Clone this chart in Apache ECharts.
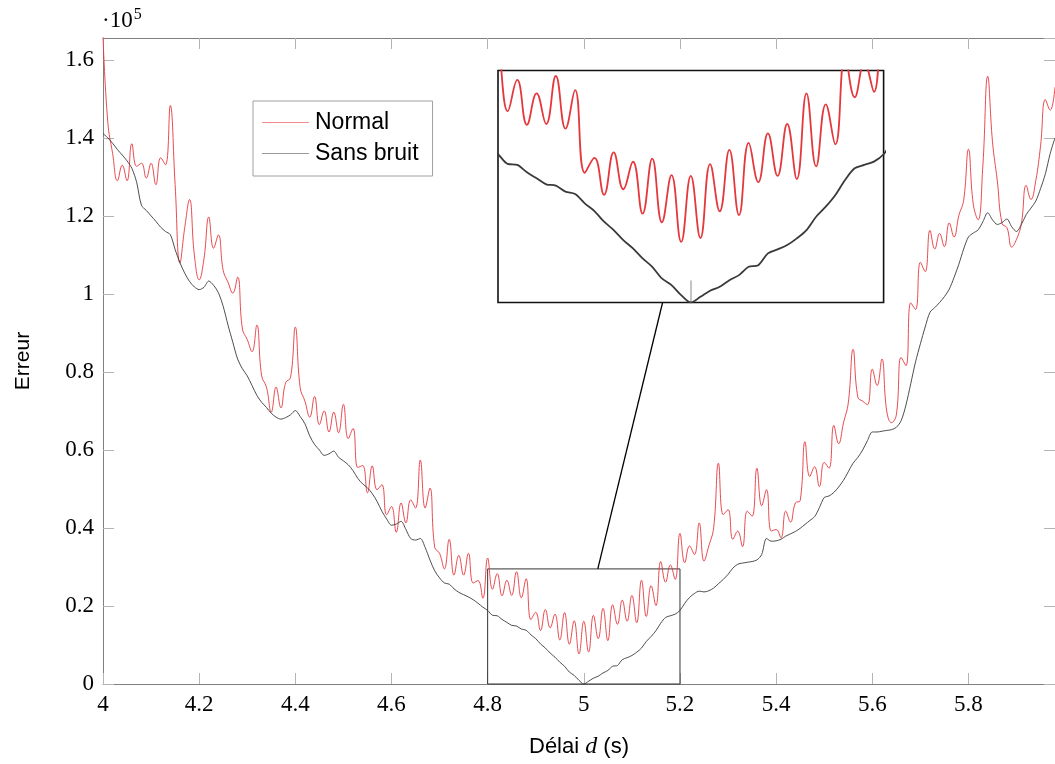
<!DOCTYPE html>
<html><head><meta charset="utf-8">
<script src="https://cdn.jsdelivr.net/npm/echarts@6/dist/echarts.min.js"></script>
<style>html,body{margin:0;padding:0;background:#fff}#c{width:1055px;height:764px}</style>
</head><body><div id="c"></div>
<script>
// Sampling grid of the delay d (s)
const D_START = 4.0, D_STEP = 0.01;
// Erreur (x 1e5) — "Normal" (red)
const normal = [
 1.66, 1.44, 1.36, 1.29, 1.33, 1.29, 1.385, 1.327, 1.335, 1.297,
 1.335, 1.28, 1.349, 1.331, 1.483, 1.28, 1.079, 1.17, 1.242, 1.10,
 1.036, 1.09, 1.197, 1.117, 1.151, 1.06, 1.03, 1.002, 1.043, 0.91,
 0.883, 0.852, 0.92, 0.79, 0.761, 0.697, 0.761, 0.708, 0.773, 0.785,
 0.915, 0.76, 0.725, 0.684, 0.737, 0.665, 0.700, 0.646, 0.697, 0.644,
 0.717, 0.629, 0.655, 0.555, 0.56, 0.49, 0.559, 0.498, 0.511, 0.434,
 0.455, 0.389, 0.464, 0.413, 0.472, 0.451, 0.574, 0.451, 0.502, 0.35,
 0.335, 0.295, 0.371, 0.279, 0.330, 0.279, 0.335, 0.259, 0.265, 0.22,
 0.323, 0.243, 0.283, 0.226, 0.266, 0.227, 0.288, 0.221, 0.270, 0.165,
 0.184, 0.137, 0.191, 0.144, 0.179, 0.113, 0.183, 0.102, 0.162, 0.077,
 0.161, 0.082, 0.176, 0.116, 0.194, 0.111, 0.203, 0.153, 0.215, 0.161,
 0.227, 0.157, 0.266, 0.173, 0.252, 0.201, 0.314, 0.261, 0.305, 0.268,
 0.386, 0.311, 0.354, 0.332, 0.413, 0.315, 0.354, 0.40, 0.566, 0.434,
 0.447, 0.371, 0.392, 0.352, 0.443, 0.430, 0.553, 0.457, 0.498, 0.392,
 0.396, 0.375, 0.443, 0.415, 0.464, 0.47, 0.621, 0.532, 0.557, 0.506,
 0.568, 0.553, 0.663, 0.616, 0.669, 0.72, 0.858, 0.735, 0.725, 0.716,
 0.807, 0.765, 0.833, 0.70, 0.67, 0.69, 0.837, 0.816, 0.977, 0.960,
 1.081, 1.057, 1.163, 1.115, 1.155, 1.121, 1.182, 1.146, 1.201, 1.24,
 1.371, 1.23, 1.19, 1.33, 1.558, 1.39, 1.29, 1.18, 1.17, 1.12,
 1.14, 1.18, 1.278, 1.242, 1.29, 1.38, 1.498, 1.471, 1.53
];
// Erreur (x 1e5) — "Sans bruit" (black)
const sansBruit = [
 1.411, 1.400, 1.386, 1.370, 1.356, 1.341, 1.322, 1.286, 1.227, 1.214,
 1.200, 1.186, 1.171, 1.160, 1.152, 1.114, 1.080, 1.053, 1.032, 1.018,
 1.011, 1.017, 1.033, 1.022, 1.003, 0.968, 0.920, 0.876, 0.833, 0.808,
 0.790, 0.765, 0.740, 0.722, 0.709, 0.694, 0.684, 0.679, 0.683, 0.690,
 0.701, 0.686, 0.667, 0.636, 0.614, 0.600, 0.586, 0.590, 0.597, 0.581,
 0.572, 0.562, 0.547, 0.527, 0.513, 0.503, 0.488, 0.468, 0.443, 0.423,
 0.407, 0.410, 0.417, 0.396, 0.373, 0.369, 0.373, 0.350, 0.318, 0.290,
 0.272, 0.259, 0.256, 0.244, 0.235, 0.229, 0.223, 0.216, 0.207, 0.197,
 0.1885, 0.1762, 0.1749, 0.1655, 0.1579, 0.1503, 0.1486, 0.1409, 0.1379, 0.1261,
 0.1163, 0.1027, 0.0921, 0.0794, 0.0688, 0.0560, 0.0454, 0.0306, 0.0221, 0.0093,
 0.0, 0.0072, 0.0149, 0.0200, 0.0284, 0.0348, 0.0454, 0.0475, 0.0624, 0.0675,
 0.0730, 0.0815, 0.0921, 0.1091, 0.1218, 0.1367, 0.1558, 0.1706, 0.1749, 0.1791,
 0.1885, 0.207, 0.222, 0.232, 0.238, 0.236, 0.239, 0.246, 0.257, 0.268,
 0.281, 0.297, 0.307, 0.310, 0.312, 0.314, 0.318, 0.332, 0.373, 0.366,
 0.367, 0.371, 0.379, 0.385, 0.391, 0.399, 0.409, 0.419, 0.429, 0.452,
 0.478, 0.482, 0.491, 0.505, 0.522, 0.544, 0.566, 0.581, 0.600, 0.624,
 0.646, 0.646, 0.648, 0.650, 0.652, 0.658, 0.675, 0.715, 0.770, 0.826,
 0.872, 0.915, 0.953, 0.965, 0.978, 0.993, 1.012, 1.042, 1.076, 1.115,
 1.146, 1.156, 1.164, 1.185, 1.208, 1.190, 1.178, 1.183, 1.192, 1.172,
 1.160, 1.178, 1.203, 1.220, 1.238, 1.270, 1.308, 1.360, 1.400
];
const seriesNames = ['Normal', 'Sans bruit'];
const X_MIN = 4, X_MAX = 5.98, X_STEP = 0.2;
const Y_MIN = 0, Y_MAX = 1.656, Y_STEP = 0.2;
const ZOOM_X = [4.8, 5.2], ZOOM_Y = [0, 0.295];
const INSET_TICKS = [5.0];

const delays = normal.map((_, i) => +(D_START + i * D_STEP).toFixed(2));
const pairs = arr => arr.map((v, i) => [delays[i], v]);

const RED = '#e4383d', BLACK = '#3a3a3a';
const tickFmt = step => v => {
  const k = Math.round(v / step);
  return Math.abs(v - k * step) < 1e-6 ? String(+(k * step).toFixed(1)) : '';
};
const labelFont = {fontFamily: 'Liberation Serif', fontSize: 23, color: '#000'};

function mainX(pos, labels) {
  return {
    type: 'value', gridIndex: 0, position: pos, min: X_MIN, max: X_MAX, interval: X_STEP,
    axisLine: {show: true, onZero: false, lineStyle: {color: '#808080', width: 1}},
    axisTick: {show: true, inside: true, length: 11, lineStyle: {color: '#b4b4b4', width: 1}},
    axisLabel: Object.assign({show: labels, margin: 9, showMaxLabel: false, formatter: tickFmt(X_STEP)}, labelFont),
    splitLine: {show: false}
  };
}
function mainY(pos, labels) {
  return {
    type: 'value', gridIndex: 0, position: pos, min: Y_MIN, max: Y_MAX, interval: Y_STEP,
    axisLine: {show: true, onZero: false, lineStyle: {color: '#808080', width: 1}},
    axisTick: {show: true, inside: true, length: 11, lineStyle: {color: '#b4b4b4', width: 1}},
    axisLabel: Object.assign({show: labels, margin: 9, showMaxLabel: false, formatter: tickFmt(Y_STEP)}, labelFont),
    splitLine: {show: false}
  };
}

const xAxes = [mainX('bottom', true), mainX('top', false),
  {type: 'value', gridIndex: 1, min: ZOOM_X[0], max: ZOOM_X[1], z: 12,
   axisLine: {show: false}, axisLabel: {show: false}, splitLine: {show: false},
   axisTick: {show: true, inside: true, length: 22, customValues: INSET_TICKS,
     lineStyle: {color: '#c4c4c4', width: 2}}}];
xAxes[0].name = '{a|Délai }{i|d}{a| (s)}';
xAxes[0].nameLocation = 'middle';
xAxes[0].nameGap = 51;
xAxes[0].nameTextStyle = {rich: {
  a: {fontFamily: 'Liberation Sans', fontSize: 22, color: '#000'},
  i: {fontFamily: 'Liberation Serif', fontStyle: 'italic', fontSize: 24, color: '#000'}}};
const yAxes = [mainY('left', true), mainY('right', false),
  {type: 'value', gridIndex: 1, min: ZOOM_Y[0], max: ZOOM_Y[1], show: false}];
yAxes[0].name = 'Erreur';
yAxes[0].nameLocation = 'middle';
yAxes[0].nameGap = 69;
yAxes[0].nameTextStyle = {fontFamily: 'Liberation Sans', fontSize: 21, color: '#000'};

const chart = echarts.init(document.getElementById('c'), null, {renderer: 'canvas'});
chart.setOption({
  animation: false,
  backgroundColor: '#fff',
  grid: [
    {left: 103, top: 38, width: 954.4, height: 651},
    {left: 498, top: 70.5, width: 385.6, height: 232, show: true, z: 10,
     backgroundColor: '#fff', borderColor: '#111', borderWidth: 1.6}
  ],
  xAxis: xAxes,
  yAxis: yAxes,
  legend: {
    data: [
      {name: seriesNames[0], itemStyle: {color: '#f08c8c'}},
      {name: seriesNames[1], itemStyle: {color: '#9a9a9a'}}
    ],
    orient: 'vertical', left: 253, top: 101,
    icon: 'rect', itemWidth: 47, itemHeight: 1.2, itemGap: 8,
    padding: [10, 14, 11, 9], borderColor: '#a0a0a0', borderWidth: 1,
    backgroundColor: '#fff',
    textStyle: {fontFamily: 'Liberation Sans', fontSize: 23, color: '#000', padding: [0, 0, 0, 1]}
  },
  series: [
    {name: seriesNames[0], type: 'line', xAxisIndex: 0, yAxisIndex: 0, data: pairs(normal),
     symbol: 'none', smooth: 0.45, z: 3, clip: true,
     lineStyle: {color: RED, width: 0.9}, itemStyle: {color: RED},
     markArea: {silent: true, itemStyle: {color: 'rgba(0,0,0,0)', borderColor: '#333', borderWidth: 1},
       data: [[{coord: [ZOOM_X[0], ZOOM_Y[0]]}, {coord: [ZOOM_X[1], ZOOM_Y[1]]}]]}},
    {name: seriesNames[1], type: 'line', xAxisIndex: 0, yAxisIndex: 0, data: pairs(sansBruit),
     symbol: 'none', smooth: 0.3, z: 3, clip: true,
     lineStyle: {color: BLACK, width: 0.9}, itemStyle: {color: BLACK}},
    {name: seriesNames[0], type: 'line', xAxisIndex: 2, yAxisIndex: 2, data: pairs(normal),
     symbol: 'none', smooth: 0.45, z: 12, clip: true,
     lineStyle: {color: RED, width: 1.8}, itemStyle: {color: RED}},
    {name: seriesNames[1], type: 'line', xAxisIndex: 2, yAxisIndex: 2, data: pairs(sansBruit),
     symbol: 'none', smooth: 0.3, z: 12, clip: true,
     lineStyle: {color: BLACK, width: 1.8}, itemStyle: {color: BLACK}}
  ]
});

// connector between zoom box and inset, plus scale factor
const p0 = chart.convertToPixel({xAxisIndex: 0, yAxisIndex: 0}, [ZOOM_X[0], ZOOM_Y[0]]);
const p1 = chart.convertToPixel({xAxisIndex: 0, yAxisIndex: 0}, [ZOOM_X[1], ZOOM_Y[1]]);
const q0 = chart.convertToPixel({xAxisIndex: 2, yAxisIndex: 2}, [ZOOM_X[0], ZOOM_Y[0]]);
const q1 = chart.convertToPixel({xAxisIndex: 2, yAxisIndex: 2}, [ZOOM_X[1], ZOOM_Y[1]]);
const bcx = (p0[0] + p1[0]) / 2, bcy = (p0[1] + p1[1]) / 2;
const icx = (q0[0] + q1[0]) / 2, icy = (q0[1] + q1[1]) / 2;
const dx = icx - bcx, dy = icy - bcy;
const tA = (p1[1] - bcy) / dy, tB = (q0[1] - bcy) / dy;
const yTop = chart.convertToPixel({yAxisIndex: 0}, Y_MAX);
const xLeft = chart.convertToPixel({xAxisIndex: 0}, X_MIN);
chart.setOption({
  graphic: [
    {type: 'line', z: 5, silent: true,
     shape: {x1: bcx + tA * dx, y1: p1[1], x2: bcx + tB * dx, y2: q0[1]},
     style: {stroke: '#000', lineWidth: 1.3}},
    {type: 'text', z: 5, left: xLeft - 1, top: yTop - 31, silent: true,
     style: {text: '{a|·10}{s|5}', rich: {
       a: {fontFamily: 'Liberation Serif', fontSize: 23, fill: '#000'},
       s: {fontFamily: 'Liberation Serif', fontSize: 16, fill: '#000', verticalAlign: 'top', padding: [0, 0, 11, 1]}}}}
  ]
});
</script>
</body></html>
